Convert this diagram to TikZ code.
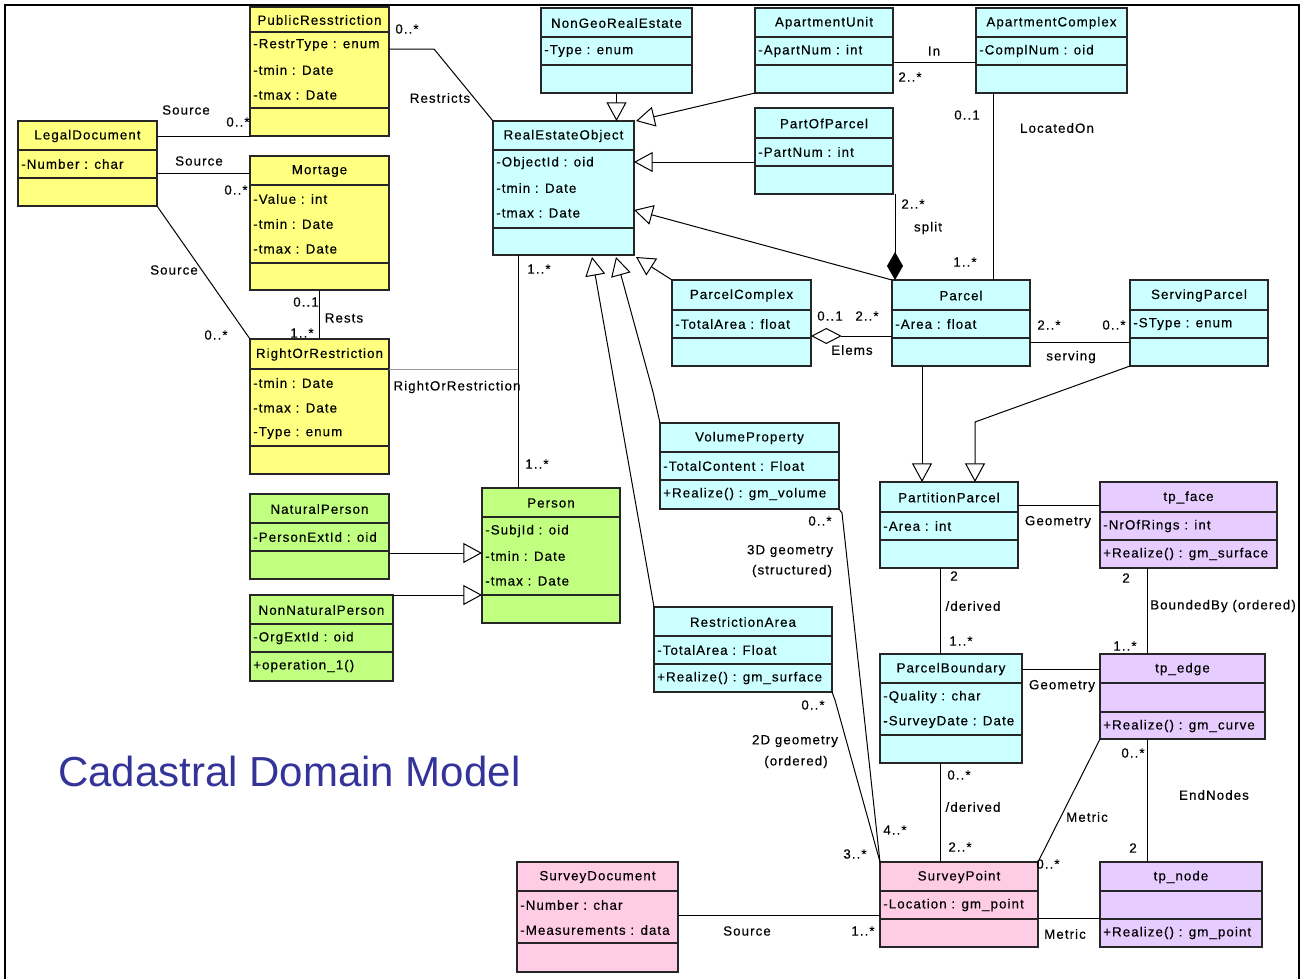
\documentclass[tikz,border=0pt]{standalone}
\usepackage{fontspec}
\setmainfont{Liberation Sans}[LetterSpace=8,FakeBold=0.35]
\newfontfamily\titlefont{Liberation Sans}
\usetikzlibrary{arrows.meta,calc,fit}
\definecolor{cyanbox}{RGB}{204,255,255}
\definecolor{yelbox}{RGB}{255,255,128}
\definecolor{grnbox}{RGB}{192,255,128}
\definecolor{pinkbox}{RGB}{255,204,230}
\definecolor{purbox}{RGB}{230,204,255}
\definecolor{titleblue}{RGB}{51,51,153}
% #1 name #2 fill #3 x1 #4 y1 #5 x2 #6 y2 #7 header bottom #8 attr bottom #9 title
\newcommand\umlbox[9]{%
  \node[umlframe, fill=#2, fit={(#3,#4) (#5,#6)}] (#1) {};
  \draw[umldiv] (#3,#7) -- (#5,#7) (#3,#8) -- (#5,#8);
  \node[ttl] (#1-t) at ({(#3+#5)/2},{(#4+#7)/2+0.5}) {#9};
}
\begin{document}
\begin{tikzpicture}[x=0.75pt,y=-0.75pt,
  umlframe/.style={draw=black!85, line width=1.2pt, inner sep=0pt, outer sep=0pt},
  umldiv/.style={draw=black!85, line width=1.2pt},
  ttl/.style={inner sep=0pt, font=\fontsize{10}{12}\selectfont},
  att/.style={inner sep=0pt, anchor=west, font=\fontsize{10}{12}\selectfont},
  lbl/.style={inner sep=0pt, font=\fontsize{10}{12}\selectfont},
  assoc/.style={draw=black, line width=0.75pt},
  gen/.style={assoc, -{Triangle[length=14pt,width=15pt,fill=white]}},
  compo/.style={assoc, -{Diamond[length=21pt,width=12pt]}},
  aggr/.style={assoc, -{Diamond[length=23pt,width=12pt,fill=white]}},
]
\useasboundingbox (0,0) rectangle (1306,978);
% frame
\draw[line width=1.8pt] (5,980) -- (5,5) -- (1299,5) -- (1299,980);

% ---------- classes ----------
\umlbox{pr}{yelbox}{250}{7}{389}{136}{32}{108}{PublicResstriction}
\node[att] (pr-1) at (253,45) {-RestrType : enum};
\node[att] (pr-2) at (253,70) {-tmin : Date};
\node[att] (pr-3) at (253,95) {-tmax : Date};

\umlbox{ld}{yelbox}{18}{121}{157}{206}{150}{178}{LegalDocument}
\node[att] (ld-1) at (21,164) {-Number : char};

\umlbox{mo}{yelbox}{250}{156}{389}{290}{185}{263}{Mortage}
\node[att] (mo-1) at (253,199) {-Value : int};
\node[att] (mo-2) at (253,224) {-tmin : Date};
\node[att] (mo-3) at (253,249) {-tmax : Date};

\umlbox{ror}{yelbox}{250}{339}{389}{474}{369}{446}{RightOrRestriction}
\node[att] (ror-1) at (253,383) {-tmin : Date};
\node[att] (ror-2) at (253,408) {-tmax : Date};
\node[att] (ror-3) at (253,433) {-Type : enum};

\umlbox{np}{grnbox}{250}{494}{389}{579}{523}{551}{NaturalPerson}
\node[att] (np-1) at (253,537) {-PersonExtId : oid};

\umlbox{nnp}{grnbox}{250}{595}{393}{681}{624}{652}{NonNaturalPerson}
\node[att] (nnp-1) at (253,638) {-OrgExtId : oid};
\node[att] (nnp-2) at (253,666) {+operation\_1()};

\umlbox{per}{grnbox}{482}{488}{620}{623}{517}{595}{Person}
\node[att] (per-1) at (485,531) {-SubjId : oid};
\node[att] (per-2) at (485,556) {-tmin : Date};
\node[att] (per-3) at (485,581) {-tmax : Date};

\umlbox{ngre}{cyanbox}{541}{8}{692}{93}{37}{65}{NonGeoRealEstate}
\node[att] (ngre-1) at (544,51) {-Type : enum};

\umlbox{au}{cyanbox}{755}{8}{893}{93}{37}{65}{ApartmentUnit}
\node[att] (au-1) at (758,51) {-ApartNum : int};

\umlbox{ac}{cyanbox}{976}{8}{1127}{93}{37}{65}{ApartmentComplex}
\node[att] (ac-1) at (979,51) {-ComplNum : oid};

\umlbox{reo}{cyanbox}{493}{121}{634}{255}{150}{228}{RealEstateObject}
\node[att] (reo-1) at (496,163) {-ObjectId : oid};
\node[att] (reo-2) at (496,188) {-tmin : Date};
\node[att] (reo-3) at (496,213) {-tmax : Date};

\umlbox{pop}{cyanbox}{755}{108}{893}{194}{138}{166}{PartOfParcel}
\node[att] (pop-1) at (758,152) {-PartNum : int};

\umlbox{pc}{cyanbox}{672}{280}{811}{366}{310}{338}{ParcelComplex}
\node[att] (pc-1) at (675,324) {-TotalArea : float};

\umlbox{pa}{cyanbox}{892}{280}{1030}{366}{310}{338}{Parcel}
\node[att] (pa-1) at (895,324) {-Area : float};

\umlbox{sp}{cyanbox}{1130}{280}{1268}{366}{310}{338}{ServingParcel}
\node[att] (sp-1) at (1133,324) {-SType : enum};

\umlbox{vp}{cyanbox}{660}{423}{839}{509}{452}{480}{VolumeProperty}
\node[att] (vp-1) at (663,466) {-TotalContent : Float};
\node[att] (vp-2) at (663,494) {+Realize() : gm\_volume};

\umlbox{ra}{cyanbox}{654}{607}{832}{692}{636}{664}{RestrictionArea}
\node[att] (ra-1) at (657,650) {-TotalArea : Float};
\node[att] (ra-2) at (657,678) {+Realize() : gm\_surface};

\umlbox{pp}{cyanbox}{880}{482}{1018}{568}{512}{540}{PartitionParcel}
\node[att] (pp-1) at (883,526) {-Area : int};

\umlbox{tf}{purbox}{1100}{482}{1277}{568}{512}{540}{tp\_face}
\node[att] (tf-1) at (1103,526) {-NrOfRings : int};
\node[att] (tf-2) at (1103,554) {+Realize() : gm\_surface};

\umlbox{pb}{cyanbox}{880}{654}{1022}{763}{683}{735}{ParcelBoundary}
\node[att] (pb-1) at (883,697) {-Quality : char};
\node[att] (pb-2) at (883,722) {-SurveyDate : Date};

\umlbox{te}{purbox}{1100}{654}{1265}{739}{683}{712}{tp\_edge}
\node[att] (te-1) at (1103,726) {+Realize() : gm\_curve};

\umlbox{spt}{pinkbox}{880}{862}{1038}{947}{891}{919}{SurveyPoint}
\node[att] (spt-1) at (883,905) {-Location : gm\_point};

\umlbox{tn}{purbox}{1100}{862}{1262}{947}{891}{919}{tp\_node}
\node[att] (tn-1) at (1103,933) {+Realize() : gm\_point};

\umlbox{sd}{pinkbox}{517}{862}{678}{972}{891}{943}{SurveyDocument}
\node[att] (sd-1) at (520,905) {-Number : char};
\node[att] (sd-2) at (520,930) {-Measurements : data};

% ---------- connectors ----------
% LegalDocument sources
\draw[assoc] (ld.east |- pr.south) -- (pr.south west);
\coordinate (mos) at ($(mo.north west)+(0,17)$);
\draw[assoc] (mos -| ld.east) -- (mos);
\draw[assoc] (ld.south east) -- (ror.north west);
% Rests
\draw[assoc] (mo.south) -- (ror.north);
% Restricts
\coordinate (prs) at ($(pr.north east)+(0,42)$);
\draw[assoc] (prs) -- ++(45,0) -- (reo.north west);
% RealEstateObject - Person with association class
\coordinate (rp) at ($(reo.south west)+(25,0)$);
\draw[assoc] (rp) -- (rp |- per.north);
\coordinate (rorl) at ($(ror.north east)+(0,30)$);
\draw[draw=black!40, line width=0.75pt] (rorl) -- (rorl -| rp);
% generalisations to RealEstateObject
\draw[gen] (ngre.south) -- (ngre.south |- reo.north);
\draw[gen] (au.south west) -- ($(reo.north east)+(2,0)$);
\coordinate (pp1) at ($(pop.north west)+(0,54)$);
\draw[gen] (pp1) -- (pp1 -| reo.east);
\draw[gen] (pa.north west) -- ($(reo.north east)+(0,89)$);
\draw[gen] (pc.north west) -- ($(reo.south east)+(2,2)$);
\draw[gen] (vp.north west) -- ++(-7,-31) -- ($(reo.south west)+(123,2)$);
\draw[gen] (ra.north west) -- ($(reo.south west)+(99,2)$);
% Elems
\coordinate (el) at ($(pc.north east)+(0,56)$);
\draw[aggr] (el -| pa.west) -- (el);
% split
\draw[compo] ($(pop.south east)+(2,0)$) -- ($(pa.north west)+(3,0)$);
% In
\coordinate (inl) at ($(au.north east)+(0,54)$);
\draw[assoc] (inl) -- (inl -| ac.west);
% LocatedOn
\coordinate (lo) at ($(ac.south west)+(17,0)$);
\draw[assoc] (lo) -- (lo |- pa.north);
% serving
\coordinate (sv) at ($(pa.north east)+(0,62)$);
\draw[assoc] (sv) -- (sv -| sp.west);
% generalisations to PartitionParcel
\coordinate (g1) at ($(pa.south west)+(30,0)$);
\draw[gen] (g1) -- (g1 |- pp.north);
\coordinate (g2) at ($(pp.north west)+(95,0)$);
\draw[gen] (sp.south west) -- ($(g2)+(0,-60)$) -- (g2);
% Geometry
\coordinate (ge1) at ($(pp.north east)+(0,23)$);
\draw[assoc] (ge1) -- (ge1 -| tf.west);
\coordinate (ge2) at ($(pb.north east)+(0,15)$);
\draw[assoc] (ge2) -- (ge2 -| te.west);
% derived
\coordinate (d1) at ($(pp.south west)+(60,0)$);
\draw[assoc] (d1) -- (d1 |- pb.north);
\draw[assoc] (d1 |- pb.south) -- (d1 |- spt.north);
% BoundedBy, EndNodes
\coordinate (bb) at ($(tf.south west)+(47,0)$);
\draw[assoc] (bb) -- (bb |- te.north);
\draw[assoc] (bb |- te.south) -- (bb |- tn.north);
% Metric
\draw[assoc] (te.south west) -- (spt.north east);
\coordinate (me) at ($(spt.north east)+(0,56)$);
\draw[assoc] (me) -- (me -| tn.west);
% Source (survey)
\coordinate (so) at ($(sd.north east)+(0,53)$);
\draw[assoc] (so) -- (so -| spt.west);
% geometry links
\draw[assoc] (vp.south east) -- ++(3,4) -- (spt.north west);
\draw[assoc] (ra.south east) -- ++(3,8) -- (spt.north west);
% Person generalisations
\coordinate (np1) at ($(np.north east)+(0,59)$);
\draw[gen] (np1) -- (np1 -| per.west);
\draw[gen] (nnp.north east) -- (nnp.north east -| per.west);

% ---------- labels ----------
\node[lbl] (l1) at (186,110) {Source};
\node[lbl] (l2) at (238,122) {0..*};
\node[lbl] (l3) at (199,161) {Source};
\node[lbl] (l4) at (236,190) {0..*};
\node[lbl] (l5) at (174,270) {Source};
\node[lbl] (l6) at (216,335) {0..*};
\node[lbl] (l7) at (306,302) {0..1};
\node[lbl] (l8) at (344,318) {Rests};
\node[lbl] (l9) at (302,333) {1..*};
\node[lbl] (l10) at (407,29) {0..*};
\node[lbl] (l11) at (440,98) {Restricts};
\node[lbl] (l12) at (457,387) {RightOrRestriction};
\node[lbl] (l13) at (539,269) {1..*};
\node[lbl] (l14) at (537,464) {1..*};
\node[lbl] (l15) at (934,51) {In};
\node[lbl] (l16) at (910,77) {2..*};
\node[lbl] (l17) at (967,115) {0..1};
\node[lbl] (l18) at (1057,128) {LocatedOn};
\node[lbl] (l19) at (913,204) {2..*};
\node[lbl] (l20) at (928,228) {split};
\node[lbl] (l21) at (965,262) {1..*};
\node[lbl] (l22) at (830,316) {0..1};
\node[lbl] (l23) at (867,316) {2..*};
\node[lbl] (l24) at (852,350) {Elems};
\node[lbl] (l25) at (1049,325) {2..*};
\node[lbl] (l26) at (1114,325) {0..*};
\node[lbl] (l27) at (1071,357) {serving};
\node[lbl] (l28) at (1058,522) {Geometry};
\node[lbl] (l29) at (954,576) {2};
\node[lbl] (l30) at (973,606) {/derived};
\node[lbl] (l31) at (961,641) {1..*};
\node[lbl] (l32) at (1126,578) {2};
\node[lbl] (l33) at (1223,606) {BoundedBy (ordered)};
\node[lbl] (l34) at (1125,646) {1..*};
\node[lbl] (l35) at (1062,686) {Geometry};
\node[lbl] (l36) at (1133,753) {0..*};
\node[lbl] (l37) at (1214,795) {EndNodes};
\node[lbl] (l38) at (1133,848) {2};
\node[lbl] (l39) at (959,775) {0..*};
\node[lbl] (l40) at (973,807) {/derived};
\node[lbl] (l41) at (960,847) {2..*};
\node[lbl] (l42) at (1087,817) {Metric};
\node[lbl] (l43) at (1048,864) {0..*};
\node[lbl] (l44) at (1065,934) {Metric};
\node[lbl] (l45) at (820,521) {0..*};
\node[lbl] (l46) at (790,551) {3D geometry};
\node[lbl] (l47) at (792,571) {(structured)};
\node[lbl] (l48) at (813,705) {0..*};
\node[lbl] (l49) at (795,741) {2D geometry};
\node[lbl] (l50) at (796,762) {(ordered)};
\node[lbl] (l51) at (855,854) {3..*};
\node[lbl] (l52) at (895,830) {4..*};
\node[lbl] (l53) at (747,931) {Source};
\node[lbl] (l54) at (863,931) {1..*};

% title
\node[anchor=base west, inner sep=0pt, text=titleblue,
      font=\titlefont\fontsize{31.5}{36}\selectfont] (title) at (58,786) {Cadastral Domain Model};
\end{tikzpicture}
\end{document}
